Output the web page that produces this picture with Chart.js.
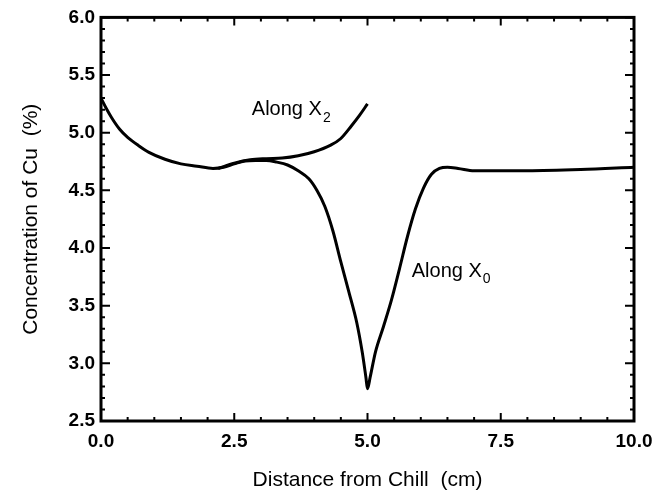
<!DOCTYPE html>
<html>
<head>
<meta charset="utf-8">
<script src="https://cdn.jsdelivr.net/npm/chart.js@4"></script>
<style>
  html, body { margin: 0; padding: 0; background: #fff; }
  canvas { display: block; }
</style>
</head>
<body>
<canvas id="cu-chart" width="671" height="493"></canvas>
<script>
// values
const x0Dist = [0.0, 0.1, 0.2, 0.35, 0.5, 0.7, 0.9, 1.2, 1.5, 1.8, 2.1, 2.3, 2.5, 2.7, 2.9, 3.1, 3.3, 3.5, 3.7, 3.9, 4.05, 4.2, 4.35, 4.5, 4.65, 4.8, 4.9, 4.97, 5.0, 5.05, 5.15, 5.3, 5.45, 5.6, 5.75, 5.9, 6.05, 6.2, 6.35, 6.5, 6.7, 7.0, 8.0, 9.0, 10.0];
const x0Conc = [5.30, 5.21, 5.13, 5.03, 4.96, 4.89, 4.83, 4.77, 4.73, 4.71, 4.69, 4.70, 4.73, 4.755, 4.76, 4.76, 4.745, 4.72, 4.67, 4.60, 4.50, 4.36, 4.15, 3.88, 3.62, 3.35, 3.10, 2.88, 2.78, 2.88, 3.10, 3.32, 3.55, 3.82, 4.10, 4.34, 4.52, 4.64, 4.69, 4.70, 4.69, 4.67, 4.67, 4.68, 4.70];
const x2Dist = [2.2, 2.5, 2.8, 3.1, 3.4, 3.7, 4.0, 4.3, 4.5, 4.7, 4.85, 5.0];
const x2Conc = [4.69, 4.735, 4.765, 4.775, 4.78, 4.80, 4.835, 4.89, 4.95, 5.06, 5.15, 5.25];

const xTicks = [0, 2.5, 5, 7.5, 10];
const yTicks = [2.5, 3.0, 3.5, 4.0, 4.5, 5.0, 5.5, 6.0];

const notes = [
    { text: 'Along X', sub: '2', x: 2.83, y: 5.2 },
    { text: 'Along X', sub: '0', x: 5.83, y: 3.8 }
];

const FONT = "'Liberation Sans', Arial, sans-serif";

function pts(xs, ys) {
    return xs.map((x, i) => ({ x: x, y: ys[i] }));
}

// frame with inward ticks on all four sides
const framePlugin = {
    id: 'frame',
    afterDraw(chart) {
        const { ctx, chartArea: a, scales } = chart;
        const xs = scales.x, ys = scales.y;
        ctx.save();
        ctx.strokeStyle = '#000';
        ctx.lineWidth = 2;
        for (let i = 0; i <= 20; i++) {
            const v = i * 0.5;
            const px = xs.getPixelForValue(v);
            const len = (i % 5 === 0) ? 8 : 4;
            ctx.beginPath();
            ctx.moveTo(px, a.bottom); ctx.lineTo(px, a.bottom - len);
            ctx.moveTo(px, a.top); ctx.lineTo(px, a.top + len);
            ctx.stroke();
        }
        for (let i = 0; i <= 35; i++) {
            const v = 2.5 + i * 0.1;
            const py = ys.getPixelForValue(v);
            const len = (i % 5 === 0) ? 9 : 4;
            ctx.beginPath();
            ctx.moveTo(a.left, py); ctx.lineTo(a.left + len, py);
            ctx.moveTo(a.right, py); ctx.lineTo(a.right - len, py);
            ctx.stroke();
        }
        ctx.lineWidth = 3;
        ctx.strokeRect(a.left, a.top, a.right - a.left, a.bottom - a.top);

        ctx.fillStyle = '#000';
        ctx.textBaseline = 'middle';
        notes.forEach(n => {
            const px = xs.getPixelForValue(n.x);
            const py = ys.getPixelForValue(n.y);
            ctx.font = '20px ' + FONT;
            ctx.textAlign = 'left';
            ctx.fillText(n.text, px, py);
            const w = ctx.measureText(n.text).width;
            ctx.font = '14px ' + FONT;
            ctx.fillText(n.sub, px + w + 1, py + 8);
        });
        ctx.restore();
    }
};

const ctx = document.getElementById('cu-chart').getContext('2d');
const cuChart = new Chart(ctx, {
    type: 'line',
    data: {
        datasets: [
            {
                label: 'Along X0',
                data: pts(x0Dist, x0Conc),
                borderColor: '#000',
                borderWidth: 3,
                pointRadius: 0,
                cubicInterpolationMode: 'monotone',
                fill: false,
            },
            {
                label: 'Along X2',
                data: pts(x2Dist, x2Conc),
                borderColor: '#000',
                borderWidth: 3,
                pointRadius: 0,
                cubicInterpolationMode: 'monotone',
                fill: false,
            }
        ]
    },
    options: {
        responsive: false,
        animation: false,
        layout: { padding: { top: 17, right: 37, left: 0, bottom: 0 } },
        plugins: {
            legend: { display: false },
            tooltip: { enabled: false }
        },
        scales: {
            x: {
                type: 'linear',
                min: 0,
                max: 10,
                afterFit: s => { s.height = 72; },
                afterBuildTicks: s => { s.ticks = xTicks.map(v => ({ value: v })); },
                grid: { display: false, drawTicks: false },
                border: { display: false },
                ticks: {
                    padding: 9,
                    maxRotation: 0,
                    color: '#000',
                    font: { family: FONT, size: 19, weight: 'bold' },
                    callback: v => v.toFixed(1)
                },
                title: {
                    display: true,
                    text: 'Distance from Chill  (cm)',
                    color: '#000',
                    padding: { top: 0, bottom: 0 },
                    font: { family: FONT, size: 21 }
                }
            },
            y: {
                type: 'linear',
                min: 2.5,
                max: 6.0,
                afterFit: s => { s.width = 101; },
                afterBuildTicks: s => { s.ticks = yTicks.map(v => ({ value: v })); },
                grid: { display: false, drawTicks: false },
                border: { display: false },
                ticks: {
                    padding: 6,
                    color: '#000',
                    font: { family: FONT, size: 19, weight: 'bold' },
                    callback: v => v.toFixed(1)
                },
                title: {
                    display: true,
                    text: 'Concentration of Cu  (%)',
                    color: '#000',
                    padding: { top: 19, bottom: 0 },
                    font: { family: FONT, size: 21 }
                }
            }
        }
    },
    plugins: [framePlugin]
});
</script>
</body>
</html>
